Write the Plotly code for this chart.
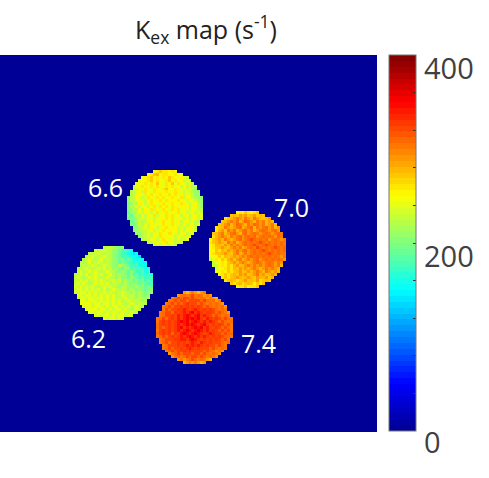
import numpy as np
import plotly.graph_objects as go

# one letter per pixel: a=140, b=150 ... x=370 (s-1), rows are centred on the disc
DISC_66 = [
    "lmnmmlml", "lmnolmmlkmlk", "klmnlmkmlnmlklkj", "lklmnkmlkmnlmkljkj",
    "kklmkmlnlkmlnkmlkjki", "jklmklmkmlkmlmkljkmjij", "jjlkmlkmlkmnlkmlkljkih",
    "ijkljmlkmlklmklmlkjkjihg", "ijklkjlmklmlkmlmkljkkjhh", "hijlkjkmlkmlmklmlkmjlkjihg",
    "hjiklkjlmklmkmlklmlkjlkjih", "ghjilkjkmlklmklmlkmlkjkljh", "gijkjlkjlmkmlmkmlklkljkljh",
    "ghjikjlkmjlkmlkmlmklkjlkji", "fhijkjlkjlmklmlklmkljkljkj", "gfhjikjlkmjlkmlmkljlkjkljk",
    "fghijkjlkjlklmkmlkljkjkljk", "fghjijkljklmklmkljkljkji", "gfhjikjlklkmlkmlkjljkljk",
    "ghijkjlkjklmlkljkjklkj", "ghijjkljklmklkljkjklkj", "hhijkjlkmlkmlkjkljkk",
    "hijkjlkmlklkjlkjkk", "ijjkljkmlkljkjkk", "jjklklmlkjkj", "jkjlkjkj",
]
DISC_62 = [
    "ijjihgg", "jijkjihgfeedc", "ijjkjijihgfedcbab", "ijkjijkjihgfeedcbba",
    "ijkjijkijihgfgefdcbcb", "iijkijkjijihgfgfedcdcbb", "ijijkjijkjihgihgfedeccb",
    "jijkjijkjkijhigfhgefdedcc", "jkijkjkjijkjihghgfgfedecd", "ijkjkijkjkijkihihgfgefdeddc",
    "jkjijkjkjijkjihihgfhgfefdee", "ijkjkijkjkjijkijhihgfgfgefd", "jkjkjijkjkjkijjihihghgfgfee",
    "kjkjkjkjijkjkjihjihhgihgfgf", "jkkjkjkjkjkijkjijihihghgfgg", "kjkkjkjkjjkjkjijkjihjhihghg",
    "kkjkkjkjkjkjkijkjijihihgh", "jkkjkkjkkjkjkjijkijihjihi", "kkjlkkjkjkjkjkijkjijihi",
    "kklkjkkjkkjkjkjijkjijii", "kkkjlkkjkjkkjkjkijkji", "kklkjkkjkjkkjkjijkj",
    "kkjkkjkjkkjkjjkji", "kkjkkjkjkkjkj", "kjkkjkj",
]
DISC_70 = [
    "lmlnmlmn", "nonpopnopnon", "mnopqpoqpoqponop", "nopqpqoprqpoqpqopo",
    "nopqoprqpoqprqpqopqo", "mnoqpopqropqroqpqrpqop", "mopnqpqopqrpqopqrqpqrp",
    "nopqopqrpoqrpqrqpqrqpqrq", "mopqpoqpqrpqrqrpqrqrqprq", "lnopoqpopqrpqrsrqrqrpqrqpq",
    "mnoponqpqopqrqrqrsrqrqrqrq", "lmoonpoqpqpqrqrsrqrsrqrqrq", "lmnoponpqpqopqrqsrqrqrsrqr",
    "klnmonpopqpqrpqrqrsrqrqrqr", "lmnnoponpqopqpqrqrqrsrqrqq", "kllnmonopopqpqrqrqrqrqrqpq",
    "jkmlnmopnpqopqpqrpqrqrqrqp", "jklmlnopopqpopqrqpqrqpqp", "jjlmlnmopnopqpqpqpqrqpqo",
    "jklmnmonpopopqpopqpqpo", "klmlnmnopnopopqpoqpopo", "lmnmnonpopnopqopnopo",
    "mnmnoponoponpoopno", "mnonmnopnonpmnon", "nmnomnonlnmn", "lmmnlmmn",
]
DISC_74 = [
    "popqpopq", "pqrqrsqrqpqp", "qrsrssrsrqrqpqpo", "qrsrssrssssrsrqrpq",
    "qrsrsrstsssrsrqrqrqp", "qrsrsststststsrsrqrqrp", "qsrssttutstutststsrqrq",
    "qrssrtstutuvtutsttsrsrqp", "qrsstsutuvutuvtutsrsrqrq", "qrsrstsutuvuvuvtsutstsrsrq",
    "qstststuvuvtuvutututsrsrqr", "rstststutuvuvutuvtststsrsq", "rsrststuvtutuvuvtusstsrsrq",
    "qstststutuvutuvutustsrsrsq", "rststrtsuvutuvutstutssrsrr", "qrsrststutuvutututststsrrq",
    "qrsssttuutuvutstststsrsq", "qrsrsstststutsutstsssrqr", "qrssststutututstssrsrq",
    "qrsrsststutstsssrsrqrq", "qrsrsststssssrsrqpqp", "pqrsrsssrssrsrqrqp",
    "pqrqrsrssrsrqrqp", "pqpqrsrqrqpo", "opqpqpop",
]
LEVELS = dict(zip("abcdefghijklmnopqrstuvwx", range(140, 380, 10)))

GRID_SIZE = 128
CBAR_TICKS = list(range(0, 440, 40))
CBAR_LABELS = ["400", "200", "0"]
JET = [(0, 0, 143), (0, 0, 255), (0, 255, 255), (255, 255, 0), (255, 0, 0), (128, 0, 0)]
JET_POS = [0, 0.125, 0.375, 0.625, 0.875, 1]

z = np.zeros((GRID_SIZE, GRID_SIZE))


def paste(rows, top, left):
    width = max(len(r) for r in rows)
    for i, row in enumerate(rows):
        for j, ch in enumerate(row.center(width, ".")):
            if ch != ".":
                z[top + i, left + j] = LEVELS[ch]


paste(DISC_66, 39, 43)
paste(DISC_70, 53, 71)
paste(DISC_62, 65, 25)
paste(DISC_74, 80, 53)

# matlab style jet, 64 flat bands
scale = []
for i in range(64):
    t = (i + 0.5) / 64
    rgb = [int(np.interp(t, JET_POS, [c[k] for c in JET])) for k in range(3)]
    col = f"rgb({rgb[0]},{rgb[1]},{rgb[2]})"
    scale += [[i / 64, col], [(i + 1) / 64, col]]

W, H = 489, 478

fig = go.Figure(
    go.Heatmap(
        z=z,
        zmin=0,
        zmax=400,
        colorscale=scale,
        hoverinfo="skip",
        colorbar=dict(
            x=389 / W,
            xanchor="left",
            y=(H - 431) / H,
            yanchor="bottom",
            len=376,
            lenmode="pixels",
            thickness=27,
            thicknessmode="pixels",
            xpad=0,
            ypad=0,
            outlinecolor="#777777",
            outlinewidth=1,
            tickmode="array",
            tickvals=CBAR_TICKS,
            ticks="inside",
            ticklen=3,
            tickcolor="#333333",
            showticklabels=False,
        ),
    )
)

fig.update_layout(
    width=W,
    height=H,
    margin=dict(l=0, r=0, t=0, b=0, autoexpand=False),
    paper_bgcolor="white",
    plot_bgcolor="white",
    font=dict(family="Open Sans"),
    title=dict(
        text="K<sub>ex</sub> map (s<sup>-1</sup>)",
        x=206 / W,
        xanchor="center",
        y=1 - 30 / H,
        yanchor="middle",
        font=dict(size=25, color="#222222"),
    ),
    xaxis=dict(domain=[0, 377 / W], range=[-0.5, GRID_SIZE - 0.5], visible=False),
    yaxis=dict(domain=[(H - 432) / H, (H - 55) / H], range=[GRID_SIZE - 0.5, -0.5], visible=False),
)

# pH labels next to the discs
for text, px, py in [("6.6", 105, 187), ("7.0", 291, 207), ("6.2", 88, 338), ("7.4", 258, 343)]:
    fig.add_annotation(
        text=text, x=px / W, y=1 - py / H, xref="paper", yref="paper", showarrow=False,
        xanchor="center", yanchor="middle", font=dict(size=25, color="white"),
    )

# colorbar labels sit a bit under their ticks in the original
for text, py in zip(CBAR_LABELS, [67, 255, 441]):
    fig.add_annotation(
        text=text, x=422 / W, y=1 - py / H, xref="paper", yref="paper", showarrow=False,
        xanchor="left", yanchor="middle", font=dict(size=29, color="#404040"),
    )

fig.write_html(
    "out.html",
    config=dict(displayModeBar=False),
    post_script="document.body.style.margin='0';document.body.style.overflow='hidden';",
)
